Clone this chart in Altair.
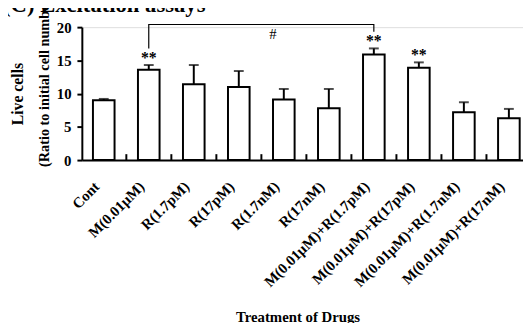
import altair as alt
import pandas as pd

# ---- data ----
categories = ["Cont", "M(0.01µM)", "R(1.7pM)", "R(17pM)", "R(1.7nM)", "R(17nM)",
              "M(0.01µM)+R(1.7pM)", "M(0.01µM)+R(17pM)", "M(0.01µM)+R(1.7nM)",
              "M(0.01µM)+R(17nM)"]
means = [9.0, 13.6, 11.4, 11.0, 9.1, 7.8, 15.9, 13.9, 7.2, 6.3]
errors = [0.2, 0.7, 2.9, 2.4, 1.6, 2.9, 0.9, 0.8, 1.5, 1.4]
significance = ["", "**", "", "", "", "", "**", "**", "", ""]

# bracket (# comparison) between M(0.01µM) and M(0.01µM)+R(1.7pM)
bracket_x = ["M(0.01µM)", "M(0.01µM)", "M(0.01µM)+R(1.7pM)", "M(0.01µM)+R(1.7pM)"]
bracket_y = [16.8, 20.4, 20.4, 19.3]
hash_cat = ["R(1.7nM)"]
hash_y = [18.9]

title_text = "(C) Excitation assays"
y_title_1 = "Live cells"
y_title_2 = "(Ratio to initial cell number)"
x_title = "Treatment of Drugs"

FONT = "Liberation Serif"

df = pd.DataFrame({
    "cat": categories,
    "mean": means,
    "hi": [m + e for m, e in zip(means, errors)],
    "sig": significance,
})
ticks_df = pd.DataFrame({"cat": categories[1:]})
br_df = pd.DataFrame({"cat": bracket_x, "y": bracket_y, "o": list(range(len(bracket_x)))})
hash_df = pd.DataFrame({"cat": hash_cat, "y": hash_y, "t": ["#"]})

xscale = alt.Scale(domain=categories, paddingInner=0.52, paddingOuter=0.16, align=0.77)
yscale = alt.Scale(domain=[0, 20], nice=False)

x_axis = alt.Axis(
    title=x_title, labelAngle=-45, labelFont=FONT, labelFontWeight="bold",
    labelFontSize=15, labelColor="black", labelPadding=19, labelOffset=-12, ticks=False,
    labelOverlap=False, domainColor="black", domainWidth=2,
    titleFont=FONT, titleFontWeight="bold", titleFontSize=15, titleColor="black",
    titleX=219, titleY=152, titleBaseline="top", titleAnchor="start", titleAlign="center",
)
y_axis = alt.Axis(
    title=None, values=[0, 5, 10, 15, 20], tickCount=5, labelFont=FONT, labelFontWeight="bold",
    labelFontSize=15, labelColor="black", labelPadding=6, labelOverlap=False,
    tickColor="black", tickWidth=2, tickSize=5, domainColor="black", domainWidth=2,
    grid=False,
)

X = alt.X("cat:N", scale=xscale, axis=x_axis, sort=categories)


def Y(field):
    return alt.Y(field, scale=yscale, axis=y_axis)


base = alt.Chart(df)
bars = base.mark_bar(fill="white", stroke="black", strokeWidth=2).encode(
    x=X, y=Y("mean:Q")
)
err = base.mark_rule(color="black", strokeWidth=2).encode(
    x=X, y=Y("mean:Q"), y2="hi:Q"
)
caps = base.mark_tick(color="black", thickness=2, size=10).encode(
    x=X, y=Y("hi:Q")
)
stars = base.mark_text(font=FONT, fontWeight="bold", fontSize=16, baseline="alphabetic",
                       dy=-2, color="black").encode(
    x=X, y=Y("hi:Q"), text="sig:N"
)
xticks = alt.Chart(ticks_df).mark_rule(color="black", strokeWidth=2, xOffset=-11.8).encode(
    x=alt.X("cat:N", scale=xscale, axis=x_axis, sort=categories, bandPosition=0),
    y=alt.value(135), y2=alt.value(129)
)
bracket = alt.Chart(br_df).mark_line(color="black", strokeWidth=1.2).encode(
    x=X, y=Y("y:Q"), order="o:Q"
)
hash_mark = alt.Chart(hash_df).mark_text(font=FONT, fontSize=15, dx=-11, baseline="middle",
                                         color="black").encode(
    x=X, y=Y("y:Q"), text="t:N"
)

one = pd.DataFrame({"a": [0]})
title_mark = alt.Chart(one).mark_text(text=title_text, font=FONT, fontWeight="bold",
                                      fontSize=23, align="left", baseline="alphabetic",
                                      color="black").encode(
    x=alt.value(-80), y=alt.value(-15)
)
yt1 = alt.Chart(one).mark_text(text=y_title_1, font=FONT, fontWeight="bold", fontSize=16,
                               angle=270, align="center", baseline="middle",
                               color="black").encode(
    x=alt.value(-65), y=alt.value(68)
)
yt2 = alt.Chart(one).mark_text(text=y_title_2, font=FONT, fontWeight="bold", fontSize=14.5,
                               angle=270, align="left", baseline="middle",
                               color="black").encode(
    x=alt.value(-37), y=alt.value(142)
)

chart = alt.layer(bars, err, caps, stars, xticks, bracket, hash_mark,
                  title_mark, yt1, yt2).properties(
    width=448, height=135,
    autosize=alt.AutoSizeParams(type="none"),
    padding={"left": 75, "top": 17, "right": 0, "bottom": 163},
).configure_view(stroke=None).configure(background="white")

chart.save("out.html", embed_options={"renderer": "svg", "actions": False})
